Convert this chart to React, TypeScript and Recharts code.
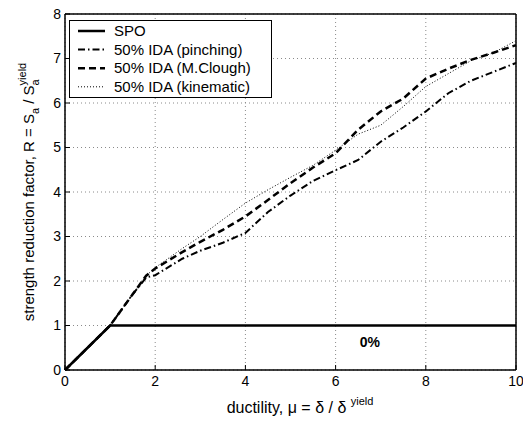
import {
  CartesianGrid,
  Line,
  LineChart,
  ReferenceDot,
  XAxis,
  YAxis,
} from 'recharts';

const ductility = [0, 1, 1.5, 1.8, 2, 2.6, 3, 3.5, 4, 4.5, 5, 5.5, 6, 6.5, 7, 7.5, 8, 8.5, 9, 9.5, 10];
const spo = [0, 1, 1, 1, 1, 1, 1, 1, 1, 1, 1, 1, 1, 1, 1, 1, 1, 1, 1, 1, 1];
const pinching = [0, 1, 1.7, 2.08, 2.13, 2.5, 2.68, 2.86, 3.08, 3.55, 3.92, 4.25, 4.49, 4.72, 5.13, 5.45, 5.81, 6.22, 6.5, 6.7, 6.9];
const mclough = [0, 1, 1.7, 2.12, 2.28, 2.65, 2.88, 3.15, 3.45, 3.82, 4.2, 4.55, 4.87, 5.4, 5.81, 6.1, 6.55, 6.77, 6.97, 7.13, 7.3];
const kinematic = [0, 1, 1.7, 2.12, 2.3, 2.73, 3.0, 3.38, 3.75, 4.05, 4.33, 4.6, 4.94, 5.3, 5.5, 5.92, 6.37, 6.66, 6.95, 7.13, 7.4];

const xTicks = [0, 2, 4, 6, 8, 10];
const yTicks = [0, 1, 2, 3, 4, 5, 6, 7, 8];

const data = ductility.map((mu, i) => ({
  mu,
  spo: spo[i],
  pinching: pinching[i],
  mclough: mclough[i],
  kinematic: kinematic[i],
}));

const FONT = '"Liberation Sans", Arial, Helvetica, sans-serif';

const series = [
  { key: 'spo', name: 'SPO', width: 2.5, dash: undefined as string | undefined },
  { key: 'pinching', name: '50% IDA (pinching)', width: 2, dash: '7 3 1.5 3' },
  { key: 'mclough', name: '50% IDA (M.Clough)', width: 2.5, dash: '7 4' },
  { key: 'kinematic', name: '50% IDA (kinematic)', width: 1, dash: '1 2' },
];

// legend drawn straight into the svg so it takes no layout space
function LegendBox() {
  return (
    <g transform="translate(69, 20)">
      <rect x={0.5} y={0.5} width={202} height={77} fill="#fff" stroke="#000" strokeWidth={1} />
      {series.map((s, i) => {
        const y = 11 + i * 18.6;
        return (
          <g key={s.key}>
            <line x1={9} x2={36} y1={y} y2={y} stroke="#000" strokeWidth={s.width} strokeDasharray={s.dash} />
            <text x={45} y={y + 5} fontSize={15} fontFamily={FONT} fill="#000">
              {s.name}
            </text>
          </g>
        );
      })}
    </g>
  );
}

function YLabel() {
  return (
    <text
      transform="translate(34, 192) rotate(-90)"
      textAnchor="middle"
      fontSize={15}
      fontFamily={FONT}
      fill="#000"
    >
      <tspan>strength reduction factor, R = S</tspan>
      <tspan fontSize={11} dy={5}>a</tspan>
      <tspan dy={-5}> / S</tspan>
      <tspan fontSize={11} dy={5}>a</tspan>
      <tspan fontSize={11} dx={-6.1} dy={-13}>yield</tspan>
    </text>
  );
}

export default function App() {
  return (
    <div style={{ position: 'absolute', left: 0, top: 0, width: 523, height: 422, background: '#fff' }}>
      <LineChart
        width={523}
        height={422}
        data={data}
        margin={{ top: 13, right: 6, bottom: 22, left: 35 }}
      >
        <CartesianGrid xAxisId="bottom" yAxisId="left" stroke="#8a8a8a" strokeDasharray="1 3" strokeWidth={1} />
        <XAxis
          xAxisId="bottom"
          dataKey="mu"
          type="number"
          domain={[0, 10]}
          ticks={xTicks}
          interval={0}
          height={30}
          axisLine={{ stroke: '#000', strokeWidth: 1.5 }}
          tickLine={{ stroke: '#000' }}
          tickSize={-5}
          tickMargin={11}
          tick={{ fill: '#000', fontSize: 14, fontFamily: FONT }}
        />
        <XAxis
          xAxisId="top"
          orientation="top"
          dataKey="mu"
          type="number"
          domain={[0, 10]}
          ticks={xTicks}
          height={1}
          axisLine={{ stroke: '#000', strokeWidth: 1.5 }}
          tickLine={{ stroke: '#000' }}
          tickSize={-5}
          tick={false}
        />
        <YAxis
          yAxisId="left"
          type="number"
          domain={[0, 8]}
          ticks={yTicks}
          interval={0}
          width={30}
          axisLine={{ stroke: '#000', strokeWidth: 1.5 }}
          tickLine={{ stroke: '#000' }}
          tickSize={-5}
          tickMargin={9}
          tick={{ fill: '#000', fontSize: 14, fontFamily: FONT }}
        />
        <YAxis
          yAxisId="right"
          orientation="right"
          type="number"
          domain={[0, 8]}
          ticks={yTicks}
          width={1}
          axisLine={{ stroke: '#000', strokeWidth: 1.5 }}
          tickLine={{ stroke: '#000' }}
          tickSize={-5}
          tick={false}
        />
        {series.map((s) => (
          <Line
            key={s.key}
            xAxisId="bottom"
            yAxisId="left"
            dataKey={s.key}
            name={s.name}
            type="linear"
            stroke="#000"
            strokeWidth={s.width}
            strokeDasharray={s.dash}
            dot={false}
            activeDot={false}
            isAnimationActive={false}
          />
        ))}
        <ReferenceDot
          xAxisId="bottom"
          yAxisId="left"
          x={6.76}
          y={0.63}
          r={0}
          fill="none"
          stroke="none"
          label={{ value: '0%', position: 'center', fontSize: 14, fontWeight: 'bold', fontFamily: FONT, fill: '#000' }}
        />
        <LegendBox />
        <YLabel />
        <text x={300} y={413} textAnchor="middle" fontSize={16} fontFamily={FONT} fill="#000">
          <tspan>ductility, μ = δ / δ </tspan>
          <tspan fontSize={11} dy={-8}>yield</tspan>
        </text>
      </LineChart>
    </div>
  );
}
